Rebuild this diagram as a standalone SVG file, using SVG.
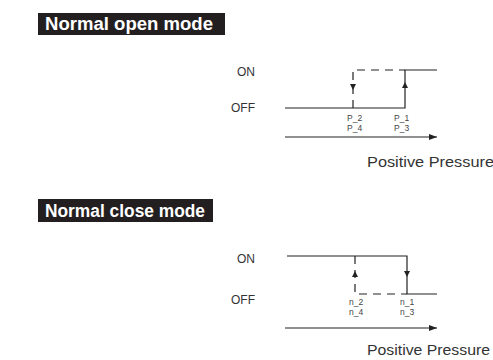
<svg xmlns="http://www.w3.org/2000/svg" width="493" height="360" viewBox="0 0 493 360">
<defs>
<marker id="ah" markerWidth="8" markerHeight="6" refX="8" refY="3" orient="auto" markerUnits="userSpaceOnUse">
<path d="M0,0 L8,3 L0,6 Z" fill="#222"/>
</marker>
<style>
.bar{fill:#231f20}
.title{font-family:"Liberation Sans",Arial,sans-serif;font-weight:bold;font-size:17.5px;fill:#fff}
.lbl{font-family:"Liberation Sans",Arial,sans-serif;font-size:12px;fill:#333}
.sm{font-family:"Liberation Sans",Arial,sans-serif;font-size:8.5px;fill:#444}
.ax{font-family:"Liberation Sans",Arial,sans-serif;font-size:14px;fill:#333}
.ln{stroke:#222;stroke-width:1.2;fill:none}
.dl{stroke:#222;stroke-width:1.2;fill:none;stroke-dasharray:8,6}
.tri{fill:#222}
</style>
</defs>
<g id="title-open">
<rect class="bar" x="38" y="13" width="187" height="22"/>
<text class="title" x="45" y="30" textLength="168" lengthAdjust="spacingAndGlyphs">Normal open mode</text>
</g>
<g id="title-close">
<rect class="bar" x="38" y="199" width="175" height="23"/>
<text class="title" x="45" y="217" textLength="160" lengthAdjust="spacingAndGlyphs">Normal close mode</text>
</g>
<g id="open-labels">
<text class="lbl" x="255" y="76" text-anchor="end">ON</text>
<text class="lbl" x="255" y="112" text-anchor="end">OFF</text>
<text class="sm" x="347" y="121">P_2</text>
<text class="sm" x="347" y="131">P_4</text>
<text class="sm" x="394" y="121">P_1</text>
<text class="sm" x="394" y="131">P_3</text>
<text class="ax" x="367" y="167" textLength="127" lengthAdjust="spacingAndGlyphs">Positive Pressure</text>
</g>
<g id="close-labels">
<text class="lbl" x="255" y="263" text-anchor="end">ON</text>
<text class="lbl" x="255" y="304" text-anchor="end">OFF</text>
<text class="sm" x="349" y="305">n_2</text>
<text class="sm" x="349" y="315">n_4</text>
<text class="sm" x="400" y="305">n_1</text>
<text class="sm" x="400" y="315">n_3</text>
<text class="ax" x="367" y="355" textLength="123" lengthAdjust="spacingAndGlyphs">Positive Pressure</text>
</g>
<g id="connectors">
<!-- open mode -->
<polyline class="ln" points="285,108 405,108 405,70 437,70"/>
<polyline class="dl" points="353,108 353,70 405,70"/>
<path class="tri" d="M350,84 L356,84 L353,90 Z"/>
<path class="tri" d="M402,88 L408,88 L405,82 Z"/>
<line class="ln" x1="285" y1="137" x2="437" y2="137" marker-end="url(#ah)"/>
<!-- close mode -->
<polyline class="ln" points="287,256 407,256 407,294 437,294"/>
<polyline class="dl" points="355,256 355,294 407,294"/>
<path class="tri" d="M352,277 L358,277 L355,271 Z"/>
<path class="tri" d="M404,271 L410,271 L407,277 Z"/>
<line class="ln" x1="285" y1="328" x2="437" y2="328" marker-end="url(#ah)"/>
</g>
</svg>
